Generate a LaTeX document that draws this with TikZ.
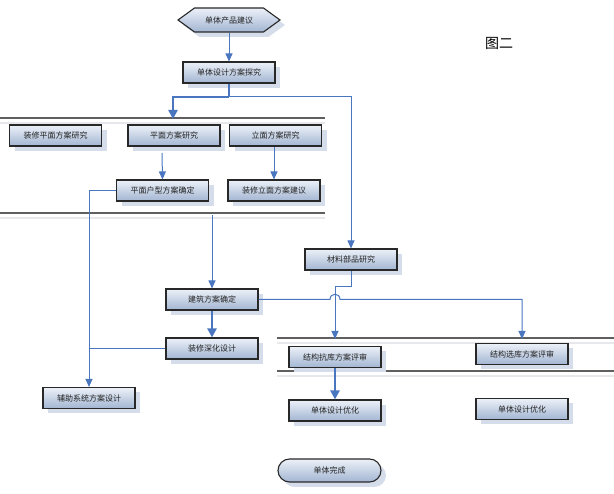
\documentclass[tikz,border=0pt]{standalone}
\usepackage{fontspec}
\setmainfont{Noto Sans CJK SC}
\usetikzlibrary{arrows.meta,shapes.symbols,shapes.misc,shadows,calc}
\definecolor{lblue}{RGB}{74,118,192}
\definecolor{boxtop}{RGB}{236,241,248}
\definecolor{boxbot}{RGB}{162,181,210}
\definecolor{shadc}{RGB}{214,221,234}
\definecolor{bordc}{RGB}{40,40,40}
\definecolor{txtc}{RGB}{35,35,35}
\definecolor{lanec}{RGB}{95,95,95}
\definecolor{lanelt}{RGB}{230,232,236}
\begin{document}
\begin{tikzpicture}[x=1pt,y=-1pt,
  shd/.style={drop shadow={shadow xshift=5pt,shadow yshift=-5pt,fill=shadc,opacity=1}},
  box/.style={shd,draw=bordc,line width=1.1pt,top color=boxtop,bottom color=boxbot,
    minimum width=92pt,minimum height=21pt,inner sep=0pt,
    font=\fontsize{8}{9}\selectfont,text=txtc},
  hexa/.style={box,signal,signal to=east and west,signal pointer angle=72,minimum width=102pt,minimum height=24pt},
  term/.style={box,rounded rectangle,minimum width=103pt,minimum height=23pt},
  wire/.style={draw=lblue,line width=1pt},
  conn/.style={wire,-{Triangle[width=7pt,length=8pt]}},
  thickwire/.style={draw=lblue,line width=2.4pt},
  thickconn/.style={thickwire,-{Triangle[width=9pt,length=9pt]}},
  lane/.style={draw=lanec,line width=1.8pt},
  lanethin/.style={draw=lanec,line width=1.2pt},
  lanelight/.style={draw=lanelt,line width=1.6pt}]
\useasboundingbox (0,0) rectangle (614,494);

% swimlane lines
\draw[lanelight] (0,123) -- (325,123);
\draw[lanelight] (0,218) -- (325,218);
\draw[lanelight] (277,343) -- (614,343);
\draw[lanelight] (277,376) -- (614,376);
\draw[lane] (0,118) -- (325,118);
\draw[lane] (0,213) -- (325,213);
\draw[lane] (277,338) -- (614,338);
\draw[lanethin] (277,371) -- (614,371);

% nodes
\node[hexa] (hex) at (229,20) {单体产品建议};
\node[box] (s1) at (229,72.5) {单体设计方案探究};
\node[box] (a1) at (55.5,135.5) {装修平面方案研究};
\node[box] (a2) at (174,135.5) {平面方案研究};
\node[box] (a3) at (275.5,135.5) {立面方案研究};
\node[box] (b1) at (162.5,190.5) {平面户型方案确定};
\node[box] (b2) at (274,190.5) {装修立面方案建议};
\node[box] (m) at (351,259.5) {材料部品研究};
\node[box] (j) at (212,299.5) {建筑方案确定};
\node[box] (z) at (212,348.5) {装修深化设计};
\node[box] (f) at (89,398) {辅助系统方案设计};
\node[box] (r1) at (335,357) {结构抗库方案评审};
\node[box] (r2) at (522,354) {结构选库方案评审};
\node[box] (o1) at (335,410.5) {单体设计优化};
\node[box] (o2) at (522,409) {单体设计优化};
\node[term] (e) at (329.5,470.5) {单体完成};
\node[font=\fontsize{14}{16}\selectfont,text=black] (title) at (499,43) {图二};

% coordinates for free ends
\coordinate (sp) at (229,97);
\coordinate (a2in) at (173,119);
\coordinate (a2out) at (162,153);
\coordinate (q) at (212,215);
\coordinate (r1in) at (335,339);
\coordinate (r2in) at (522,339);

% connectors
\draw[conn] (hex.south) -- (s1.north);
\draw[thickwire] (s1.south) -- (sp);
\draw[thickconn] (sp) -| (a2in);
\draw[conn] (sp) -| (m.north);
\draw[conn] (a2out) -- (b1.north);
\draw[conn] (a3.south -| b2.north) -- (b2.north);
\draw[conn] (b1.west) -| (f.north);
\draw[wire] (z.west) -- (z.west -| f.north);
\draw[conn] (q) -- (j.north);
\draw[thickconn] (j.south) -- (z.north);
\draw[conn] (m.south) -- ($(m.south)+(0,16)$) -| (r1in);
\draw[conn] (j.east) -- (330,299.5) .. controls (330,292.5) and (340,292.5) .. (340,299.5) -| (r2in);
\draw[thickconn] (r1.south) -- (o1.north);
\end{tikzpicture}
\end{document}
